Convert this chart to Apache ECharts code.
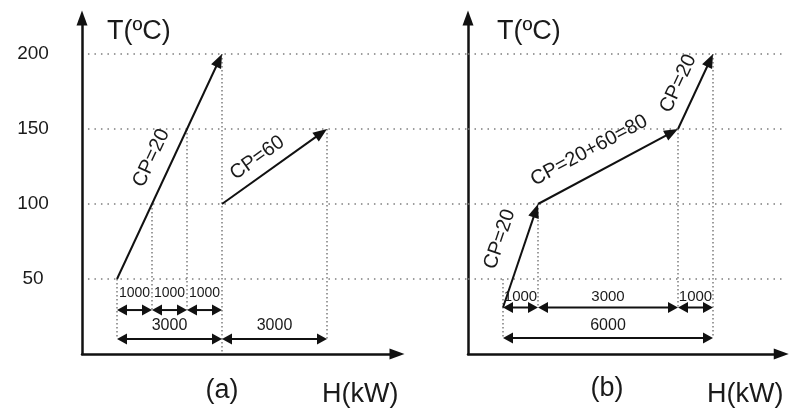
<!DOCTYPE html>
<html><head><meta charset="utf-8">
<script src="https://cdn.jsdelivr.net/npm/echarts@6/dist/echarts.min.js"></script>
<style>html,body{margin:0;padding:0;background:#fff}#c{width:790px;height:411px}</style>
</head><body><div id="c"></div>
<script>
// ---------------- data ----------------
const tTicks = [50, 100, 150, 200];          // T(ºC) tick labels
const tMax = 224;
const hMaxA = 9000;
const hMaxB = 8950;

// panel (a): streams [H0, T0, H1, T1]
const aStreams = [[1000, 50, 4000, 200], [4000, 100, 7000, 150]];
const aStreamLabels = ['CP=20', 'CP=60'];
const aRow1T = 29.3, aRow2T = 10;
const aDimRow1H = [1000, 2000, 3000, 4000];
const aDimRow1Labels = ['1000', '1000', '1000'];
const aDimRow2H = [1000, 4000, 7000];
const aDimRow2Labels = ['3000', '3000'];
// guides [H, T top, T bottom]
const aGuides = [[1000, 50, 10], [2000, 100, 29.3], [3000, 150, 29.3], [4000, 200, 0], [7000, 150, 10]];

// panel (b)
const bStreams = [[1000, 31, 2000, 100], [2000, 100, 6000, 150], [6000, 150, 7000, 200]];
const bStreamLabels = ['CP=20', 'CP=20+60=80', 'CP=20'];
const bRow1T = 31, bRow2T = 10.7;
const bDimRow1H = [1000, 2000, 6000, 7000];
const bDimRow1Labels = ['1000', '3000', '1000'];
const bDimRow2H = [1000, 7000];
const bDimRow2Labels = ['6000'];
const bGuides = [[1000, 50, 10.7], [2000, 100, 31], [6000, 150, 31], [7000, 200, 10.7]];

// ---------------- styling ----------------
const INK = '#111';
const TXT = '#1a1a1a';
const GRID = '#7e7e7e';
const FONT = '"Liberation Sans", Arial, Helvetica, sans-serif';
// label offsets for stream labels: [perpendicular, along]
const aLabelOffs = [[20, 0], [17, -9]];
const bLabelOffs = [[25, 9], [23, -9], [19, 0]];

function seg(p0, p1, w, dash, color) {
  return {type: 'line', silent: true,
    shape: {x1: p0[0], y1: p0[1], x2: p1[0], y2: p1[1]},
    style: {stroke: color || INK, lineWidth: w, lineDash: dash || null}};
}
function head(tip, from, L, W) {
  const dx = tip[0] - from[0], dy = tip[1] - from[1];
  const len = Math.hypot(dx, dy), ux = dx / len, uy = dy / len;
  const bx = tip[0] - ux * L, by = tip[1] - uy * L;
  return {type: 'polygon', silent: true,
    shape: {points: [[tip[0], tip[1]], [bx + uy * W, by - ux * W], [bx - uy * W, by + ux * W]]},
    style: {fill: INK}};
}
function streamRender(labels, offs) {
  return function (params, api) {
    const p0 = api.coord([api.value(0), api.value(1)]);
    const p1 = api.coord([api.value(2), api.value(3)]);
    const dx = p1[0] - p0[0], dy = p1[1] - p0[1];
    const len = Math.hypot(dx, dy), ux = dx / len, uy = dy / len;
    const nx = uy, ny = -ux;
    const o = offs[params.dataIndex];
    const mx = (p0[0] + p1[0]) / 2 + nx * o[0] + ux * o[1];
    const my = (p0[1] + p1[1]) / 2 + ny * o[0] + uy * o[1];
    return {type: 'group', children: [
      seg(p0, [p1[0] - ux * 8, p1[1] - uy * 8], 2),
      head(p1, p0, 14, 5.5),
      {type: 'text', x: mx, y: my, rotation: Math.atan2(-dy, dx), silent: true,
        style: {text: labels[params.dataIndex], font: '20px ' + FONT, fill: TXT,
          align: 'center', verticalAlign: 'middle'}}
    ]};
  };
}
function dimRows(hs, t) {
  const r = [];
  for (let i = 0; i < hs.length - 1; i++) r.push([hs[i], hs[i + 1], t]);
  return r;
}
function dimRender(labels, fontSize, gap) {
  return function (params, api) {
    const p0 = api.coord([api.value(0), api.value(2)]);
    const p1 = api.coord([api.value(1), api.value(2)]);
    return {type: 'group', children: [
      seg([p0[0] + 5, p0[1]], [p1[0] - 5, p1[1]], 2),
      head(p0, p1, 10, 5.5), head(p1, p0, 10, 5.5),
      {type: 'text', x: (p0[0] + p1[0]) / 2, y: p0[1] - gap, silent: true,
        style: {text: labels[params.dataIndex], font: fontSize + 'px ' + FONT, fill: TXT,
          align: 'center', verticalAlign: 'middle'}}
    ]};
  };
}
function hGridRender(params, api) {
  const p0 = api.coord([api.value(0), api.value(2)]);
  const p1 = api.coord([api.value(1), api.value(2)]);
  return seg(p0, p1, 1.5, [1.5, 5], GRID);
}
function guideRender(params, api) {
  const p0 = api.coord([api.value(0), api.value(1)]);
  const p1 = api.coord([api.value(0), api.value(2)]);
  return seg(p0, p1, 1.5, [1.5, 2.5], GRID);
}

const axisLine = {show: true, symbol: ['none', 'triangle'], symbolSize: [11, 15],
  lineStyle: {color: INK, width: 2.5}};

function custom(idx, data, render, z) {
  return {type: 'custom', xAxisIndex: idx, yAxisIndex: idx, data: data,
    renderItem: render, clip: false, silent: true, z: z || 2, animation: false};
}

const option = {
  animation: false,
  backgroundColor: '#fff',
  grid: [
    {left: 82, top: 18, width: hMaxA * 0.035, height: tMax * 1.5, outerBoundsMode: 'none'},
    {left: 468, top: 18, width: hMaxB * 0.035, height: tMax * 1.5, outerBoundsMode: 'none'}
  ],
  xAxis: [
    {type: 'value', gridIndex: 0, min: 0, max: hMaxA, axisLine: axisLine,
      axisTick: {show: false}, axisLabel: {show: false}, splitLine: {show: false}},
    {type: 'value', gridIndex: 1, min: 0, max: hMaxB, axisLine: axisLine,
      axisTick: {show: false}, axisLabel: {show: false}, splitLine: {show: false}}
  ],
  yAxis: [
    {type: 'value', gridIndex: 0, min: 0, max: tMax, interval: 50, axisLine: axisLine,
      axisTick: {show: false}, splitLine: {show: false},
      axisLabel: {show: true, align: 'center', margin: 49, fontSize: 19, fontFamily: FONT, color: TXT,
        formatter: function (v) { return tTicks.indexOf(v) >= 0 ? String(v) : ''; }}},
    {type: 'value', gridIndex: 1, min: 0, max: tMax, interval: 50, axisLine: axisLine,
      axisTick: {show: false}, splitLine: {show: false}, axisLabel: {show: false}}
  ],
  series: [
    custom(0, tTicks.map(function (t) { return [170, 11030, t]; }), hGridRender, 1),
    custom(1, tTicks.map(function (t) { return [0, 8970, t]; }), hGridRender, 1),
    custom(0, aGuides, guideRender, 1),
    custom(1, bGuides, guideRender, 1),
    custom(0, aStreams, streamRender(aStreamLabels, aLabelOffs)),
    custom(1, bStreams, streamRender(bStreamLabels, bLabelOffs)),
    custom(0, dimRows(aDimRow1H, aRow1T), dimRender(aDimRow1Labels, 14, 17)),
    custom(0, dimRows(aDimRow2H, aRow2T), dimRender(aDimRow2Labels, 16, 13)),
    custom(1, dimRows(bDimRow1H, bRow1T), dimRender(bDimRow1Labels, 15, 11)),
    custom(1, dimRows(bDimRow2H, bRow2T), dimRender(bDimRow2Labels, 16, 12))
  ],
  graphic: [
    {type: 'text', x: 107, y: 32, style: {text: 'T(ºC)', font: '27px ' + FONT, fill: TXT, verticalAlign: 'middle'}},
    {type: 'text', x: 497, y: 32, style: {text: 'T(ºC)', font: '27px ' + FONT, fill: TXT, verticalAlign: 'middle'}},
    {type: 'text', x: 322, y: 395, style: {text: 'H(kW)', font: '27px ' + FONT, fill: TXT, verticalAlign: 'middle'}},
    {type: 'text', x: 707, y: 395, style: {text: 'H(kW)', font: '27px ' + FONT, fill: TXT, verticalAlign: 'middle'}},
    {type: 'text', x: 222, y: 391, style: {text: '(a)', font: '27px ' + FONT, fill: TXT, align: 'center', verticalAlign: 'middle'}},
    {type: 'text', x: 607, y: 389, style: {text: '(b)', font: '27px ' + FONT, fill: TXT, align: 'center', verticalAlign: 'middle'}}
  ]
};
const chart = echarts.init(document.getElementById('c'), null, {renderer: 'canvas'});
chart.setOption(option);
</script>
</body></html>
